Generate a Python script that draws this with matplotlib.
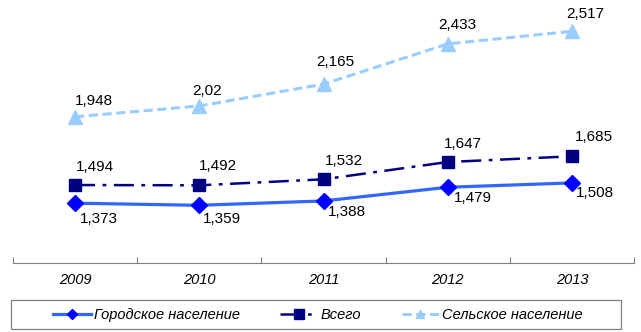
import matplotlib.pyplot as plt
from matplotlib.lines import Line2D
from matplotlib.patches import Rectangle

years = ['2009', '2010', '2011', '2012', '2013']
urban = [1.373, 1.359, 1.388, 1.479, 1.508]
total = [1.494, 1.492, 1.532, 1.647, 1.685]
rural = [1.948, 2.02, 2.165, 2.433, 2.517]

urban_labels = ['1,373', '1,359', '1,388', '1,479', '1,508']
total_labels = ['1,494', '1,492', '1,532', '1,647', '1,685']
rural_labels = ['1,948', '2,02', '2,165', '2,433', '2,517']

names = ['Городское население', 'Всего', 'Сельское население']

plt.rcParams['font.family'] = ['Liberation Sans', 'DejaVu Sans']

fig = plt.figure(figsize=(6.41, 3.32), dpi=100)
ax = fig.add_axes([13 / 641, 1 - 263 / 332, 621 / 641, 244.2 / 332])

x = list(range(len(years)))

styles = [
    dict(color='#3366FF', lw=2.3, ls='-', marker='D', mfc='#0000FF', mec='#0000FF'),
    dict(color='#000080', lw=1.8, ls=(0, (8, 3, 1.5, 3)), marker='s', mfc='#000080', mec='#000080'),
    dict(color='#99CCFF', lw=2.2, ls=(0, (3, 1.5)), marker='^', mfc='#99CCFF', mec='#99CCFF'),
]
sizes = [8.5, 8.5, 9.5]
legend_sizes = [5, 6.5, 6]

for vals, st, ms in zip([urban, total, rural], styles, sizes):
    ax.plot(x, vals, ms=ms, **st)

# label offsets in pixels (dx, dy)
urban_off = [(24, -16), (23, -14), (23, -11), (25, -11), (23, -10)]
total_off = [(20, 18), (19, 19), (20, 18), (15, 18), (22, 19)]
rural_off = [(19, 16), (8, 15), (12, 22), (10, 19), (13, 17)]

for vals, labs, offs in [(urban, urban_labels, urban_off),
                         (total, total_labels, total_off),
                         (rural, rural_labels, rural_off)]:
    for i in range(len(vals)):
        ax.annotate(labs[i], (x[i], vals[i]), xytext=offs[i],
                    textcoords='offset pixels', ha='center', va='center',
                    fontsize=11, color='black')

ax.set_xlim(-0.5, 4.5)
ax.set_ylim(0.975, 2.6)

for s in ['top', 'right', 'left']:
    ax.spines[s].set_visible(False)
ax.spines['bottom'].set_color('#808080')
ax.set_yticks([])

ax.set_xticks([i + 0.5 for i in range(-1, 5)], minor=False)
ax.set_xticklabels([])
ax.tick_params(axis='x', direction='in', length=4, color='#808080')
ax.set_xticks(x, minor=True)
ax.set_xticklabels(years, minor=True, fontsize=10.5, style='italic')
ax.tick_params(axis='x', which='minor', length=0, pad=7)

# legend with smaller markers inside a hand-drawn frame
handles = [Line2D([], [], ms=lm, **st) for st, lm in zip(styles, legend_sizes)]
fig.add_artist(Rectangle((11 / 641, 1 - 329 / 332), 610 / 641, 29 / 332,
                         transform=fig.transFigure, fill=False,
                         edgecolor='#808080', lw=0.9))
fig.legend(handles=handles, labels=names, loc='center',
           bbox_to_anchor=(318 / 641, 1 - 315 / 332), ncol=3, frameon=False,
           prop={'style': 'italic', 'size': 10.5},
           handlelength=2.55, columnspacing=2.8, handletextpad=0.2,
           borderpad=0.2)

fig.savefig('out.png', dpi=100)
